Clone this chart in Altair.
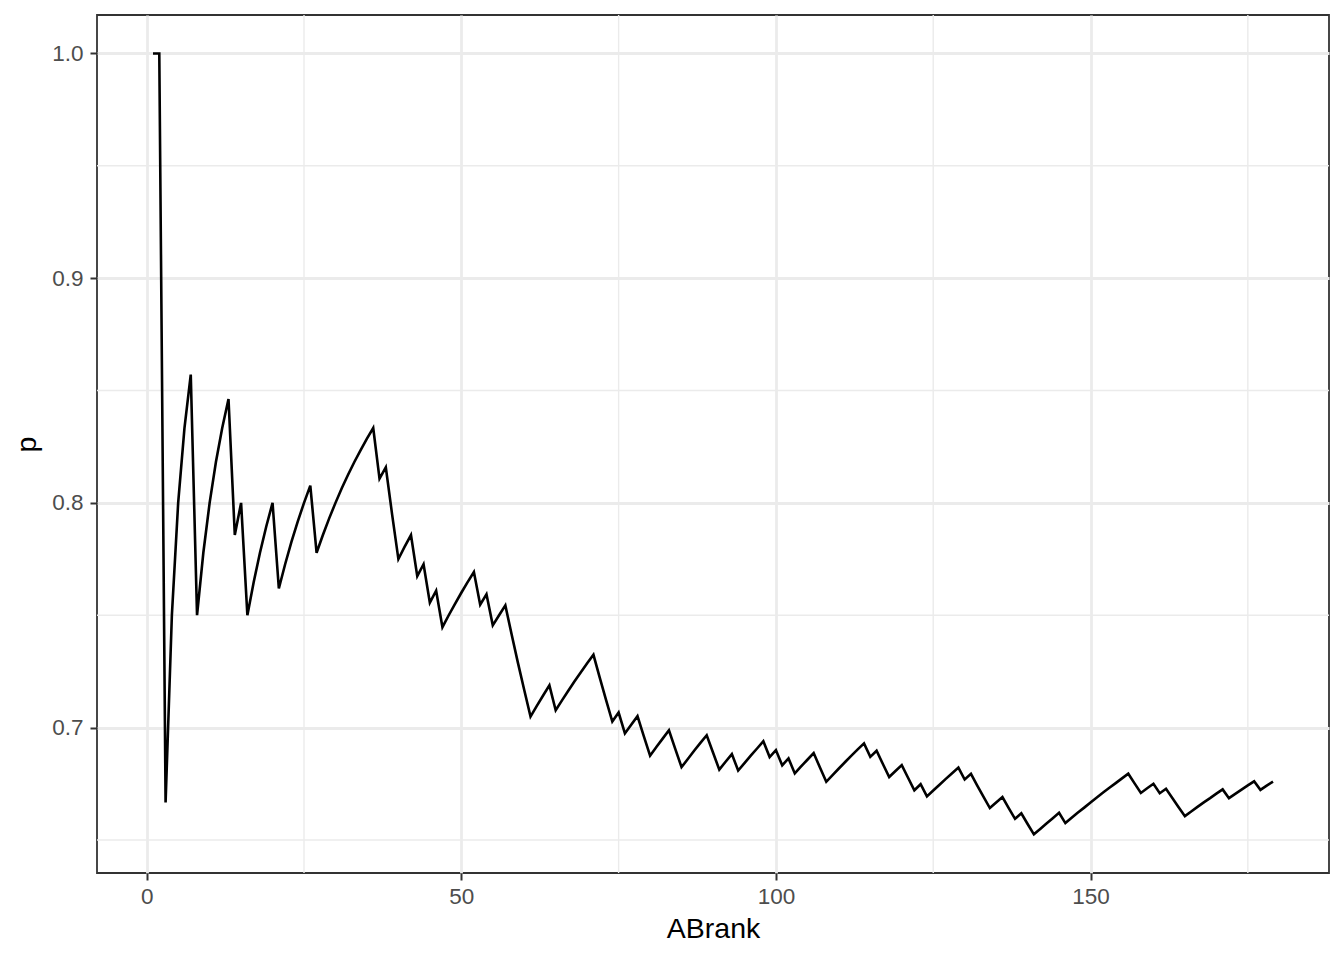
import altair as alt
import pandas as pd

# ABrank values (1..179) and cumulative proportion p
abrank = list(range(1, 180))
p = [
    1.0, 1.0, 0.6667, 0.75, 0.8, 0.8333, 0.8571, 0.75, 0.7778, 0.8,
    0.8182, 0.8333, 0.8462, 0.7857, 0.8, 0.75, 0.7647, 0.7778, 0.7895, 0.8,
    0.7619, 0.7727, 0.7826, 0.7917, 0.8, 0.8077, 0.7778, 0.7857, 0.7931, 0.8,
    0.8065, 0.8125, 0.8182, 0.8235, 0.8286, 0.8333, 0.8108, 0.8158, 0.7949, 0.775,
    0.7805, 0.7857, 0.7674, 0.7727, 0.7556, 0.7609, 0.7447, 0.75, 0.7551, 0.76,
    0.7647, 0.7692, 0.7547, 0.7593, 0.7455, 0.75, 0.7544, 0.7414, 0.7288, 0.7167,
    0.7049, 0.7097, 0.7143, 0.7188, 0.7077, 0.7121, 0.7164, 0.7206, 0.7246, 0.7286,
    0.7324, 0.7222, 0.7123, 0.7027, 0.7067, 0.6974, 0.7013, 0.7051, 0.6962, 0.6875,
    0.6914, 0.6951, 0.6988, 0.6905, 0.6824, 0.6860, 0.6897, 0.6932, 0.6966, 0.6889,
    0.6813, 0.6848, 0.6882, 0.6809, 0.6842, 0.6875, 0.6907, 0.6939, 0.6869, 0.69,
    0.6832, 0.6863, 0.6796, 0.6827, 0.6857, 0.6887, 0.6822, 0.6759, 0.6789, 0.6818,
    0.6847, 0.6875, 0.6903, 0.6930, 0.6870, 0.6897, 0.6838, 0.6780, 0.6807, 0.6833,
    0.6777, 0.6721, 0.6748, 0.6694, 0.672, 0.6746, 0.6772, 0.6797, 0.6822, 0.6769,
    0.6794, 0.6742, 0.6692, 0.6642, 0.6667, 0.6691, 0.6642, 0.6594, 0.6619, 0.6571,
    0.6525, 0.6549, 0.6573, 0.6597, 0.6621, 0.6575, 0.6599, 0.6622, 0.6644, 0.6667,
    0.6689, 0.6711, 0.6732, 0.6753, 0.6774, 0.6795, 0.6752, 0.6709, 0.6730, 0.675,
    0.6708, 0.6728, 0.6687, 0.6646, 0.6606, 0.6627, 0.6647, 0.6667, 0.6686, 0.6706,
    0.6725, 0.6686, 0.6705, 0.6724, 0.6743, 0.6761, 0.6723, 0.6742, 0.6760,
]

x_ticks = [0, 50, 100, 150]
y_ticks = [0.7, 0.8, 0.9, 1.0]
x_minor = [25, 75, 125, 175]
y_minor = [0.65, 0.75, 0.85, 0.95]

df = pd.DataFrame({"ABrank": abrank, "p": p})
dfx = pd.DataFrame({"xv": x_minor})
dfy = pd.DataFrame({"yv": y_minor})

W, H = 1232, 858
xscale = alt.Scale(domain=[-7.9, 187.9], nice=False, zero=False)
yscale = alt.Scale(domain=[0.6353, 1.0171], nice=False, zero=False)

FONT = "Liberation Sans"

minor_v = alt.Chart(dfx).mark_rule(color="#EBEBEB", strokeWidth=1.4).encode(
    x=alt.X("xv:Q", scale=xscale)
)
minor_h = alt.Chart(dfy).mark_rule(color="#EBEBEB", strokeWidth=1.4).encode(
    y=alt.Y("yv:Q", scale=yscale)
)

line = alt.Chart(df).mark_line(color="black", strokeWidth=2.6).encode(
    x=alt.X(
        "ABrank:Q",
        scale=xscale,
        axis=alt.Axis(
            values=x_ticks,
            format="d",
            title="ABrank",
            grid=True,
            gridColor="#EBEBEB",
            gridWidth=2.8,
            domain=False,
            tickColor="#333333",
            tickWidth=2,
            tickSize=7,
            labelColor="#4D4D4D",
            labelFontSize=22.5,
            labelFont=FONT,
            labelPadding=5,
            titleFont=FONT,
            titleFontSize=28.5,
            titleFontWeight="normal",
            titleColor="black",
            titleBaseline="alphabetic",
            titleY=64.5,
        ),
    ),
    y=alt.Y(
        "p:Q",
        scale=yscale,
        axis=alt.Axis(
            values=y_ticks,
            format=".1f",
            title="p",
            grid=True,
            gridColor="#EBEBEB",
            gridWidth=2.8,
            domain=False,
            tickColor="#333333",
            tickWidth=2,
            tickSize=7,
            labelColor="#4D4D4D",
            labelFontSize=22.5,
            labelFont=FONT,
            labelPadding=7,
            titleFont=FONT,
            titleFontSize=28.5,
            titleFontWeight="normal",
            titleColor="black",
            titleAngle=270,
            titleBaseline="alphabetic",
            titleAlign="center",
            titleX=-62,
            titleY=H / 2,
        ),
    ),
)

chart = (
    alt.layer(minor_v, minor_h, line)
    .properties(
        width=W,
        height=H,
        autosize=alt.AutoSizeParams(type="none"),
        padding={"left": 89, "top": 7, "right": 7, "bottom": 80},
        background="white",
    )
    .configure_view(stroke="#333333", strokeWidth=1.8)
)

chart.save("out.html", embed_options={"renderer": "svg", "actions": False})
